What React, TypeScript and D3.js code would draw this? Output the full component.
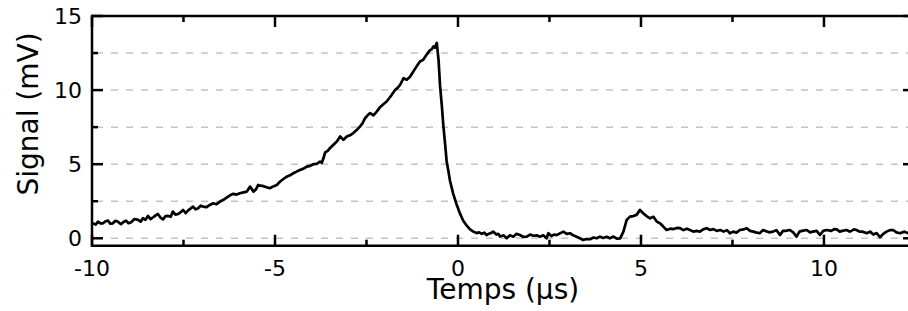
import React from "react";
import * as d3 from "d3";

const timeUs: number[] = [
  -10.0, -9.97, -9.9, -9.84, -9.77, -9.7, -9.63, -9.56, -9.5, -9.43, -9.36, -9.29, -9.21, -9.14, -9.07, -9.0,
  -8.93, -8.84, -8.74, -8.67, -8.61, -8.54, -8.47, -8.4, -8.33, -8.26, -8.2, -8.13, -8.06, -7.99, -7.92, -7.85,
  -7.79, -7.72, -7.65, -7.58, -7.51, -7.44, -7.38, -7.31, -7.24, -7.17, -7.1, -7.03, -6.97, -6.87, -6.78, -6.69,
  -6.6, -6.5, -6.41, -6.32, -6.23, -6.14, -6.05, -5.96, -5.86, -5.77, -5.68, -5.59, -5.52, -5.46, -5.39, -5.32,
  -5.23, -5.14, -5.05, -4.95, -4.86, -4.77, -4.68, -4.59, -4.5, -4.41, -4.32, -4.22, -4.13, -4.04, -3.95, -3.86,
  -3.77, -3.72, -3.67, -3.63, -3.56, -3.5, -3.41, -3.31, -3.22, -3.13, -3.04, -2.95, -2.86, -2.77, -2.68, -2.61,
  -2.54, -2.47, -2.4, -2.31, -2.22, -2.13, -2.04, -1.95, -1.88, -1.81, -1.72, -1.65, -1.58, -1.49, -1.4, -1.31,
  -1.22, -1.13, -1.04, -0.95, -0.86, -0.77, -0.72, -0.67, -0.63, -0.58, -0.53, -0.49, -0.44, -0.4, -0.35, -0.31,
  -0.26, -0.22, -0.13, -0.04, 0.05, 0.14, 0.24, 0.33, 0.42, 0.51, 0.58, 0.65, 0.72, 0.78, 0.84, 0.9,
  0.96, 1.05, 1.1, 1.15, 1.25, 1.33, 1.42, 1.51, 1.6, 1.69, 1.78, 1.88, 1.97, 2.06, 2.15, 2.24,
  2.33, 2.42, 2.47, 2.55, 2.62, 2.7, 2.8, 2.88, 2.97, 3.06, 3.15, 3.24, 3.33, 3.42, 3.52, 3.61,
  3.7, 3.79, 3.88, 3.97, 4.06, 4.15, 4.25, 4.34, 4.43, 4.52, 4.61, 4.7, 4.79, 4.88, 4.97, 5.06,
  5.15, 5.25, 5.34, 5.43, 5.52, 5.61, 5.7, 5.8, 5.89, 5.98, 6.07, 6.16, 6.25, 6.34, 6.43, 6.52,
  6.61, 6.7, 6.8, 6.89, 6.98, 7.07, 7.17, 7.26, 7.35, 7.43, 7.52, 7.61, 7.7, 7.8, 7.89, 7.98,
  8.07, 8.16, 8.25, 8.33, 8.4, 8.5, 8.61, 8.7, 8.8, 8.88, 8.95, 9.07, 9.16, 9.25, 9.33, 9.4,
  9.53, 9.62, 9.7, 9.8, 9.89, 9.98, 10.07, 10.2, 10.28, 10.35, 10.43, 10.5, 10.62, 10.7, 10.75, 10.82,
  10.89, 10.97, 11.05, 11.17, 11.26, 11.35, 11.44, 11.53, 11.62, 11.71, 11.8, 11.89, 11.98, 12.08, 12.2, 12.3,
  12.5,
];

const signalMv: number[] = [
  0.95, 1.01, 0.92, 1.12, 1.0, 1.01, 1.15, 1.19, 0.98, 1.01, 1.18, 1.12, 0.95, 1.1, 1.19, 1.02,
  1.08, 1.3, 1.24, 1.12, 1.35, 1.25, 1.51, 1.3, 1.42, 1.55, 1.64, 1.4, 1.28, 1.5, 1.51, 1.45,
  1.8, 1.6, 1.64, 1.75, 1.91, 1.7, 1.87, 2.0, 2.14, 1.95, 2.03, 2.2, 2.14, 2.1, 2.25, 2.36,
  2.3, 2.48, 2.6, 2.75, 2.9, 3.0, 2.95, 3.04, 3.1, 3.15, 3.49, 3.15, 3.3, 3.6, 3.55, 3.52,
  3.45, 3.38, 3.5, 3.6, 3.83, 4.0, 4.16, 4.25, 4.39, 4.5, 4.61, 4.7, 4.84, 4.89, 5.0, 5.02,
  5.17, 5.1, 5.45, 5.8, 5.9, 6.08, 6.3, 6.53, 6.87, 6.64, 6.87, 6.95, 7.1, 7.3, 7.54, 7.75,
  8.1, 8.3, 8.45, 8.3, 8.55, 8.85, 9.05, 9.23, 9.45, 9.68, 10.0, 10.15, 10.36, 10.8, 10.7, 10.9,
  11.26, 11.6, 11.93, 12.05, 12.38, 12.68, 12.75, 12.95, 12.85, 13.18, 12.0, 10.3, 8.9, 7.6, 6.3, 5.2,
  4.5, 3.9, 3.0, 2.3, 1.7, 1.2, 0.85, 0.6, 0.45, 0.35, 0.4, 0.3, 0.38, 0.22, 0.3, 0.35,
  0.45, 0.25, 0.3, 0.12, 0.2, 0.0, 0.2, 0.11, 0.3, 0.22, 0.1, 0.11, 0.25, 0.17, 0.2, 0.11,
  0.2, 0.0, 0.34, 0.15, 0.25, 0.22, 0.35, 0.45, 0.3, 0.34, 0.2, 0.11, 0.0, -0.11, -0.05, -0.06,
  0.05, 0.0, 0.11, 0.02, 0.1, 0.0, 0.12, -0.03, 0.0, 0.45, 1.24, 1.46, 1.5, 1.58, 1.91, 1.69,
  1.5, 1.35, 1.45, 1.13, 1.01, 0.79, 0.56, 0.65, 0.62, 0.7, 0.68, 0.55, 0.65, 0.56, 0.45, 0.5,
  0.45, 0.6, 0.68, 0.56, 0.62, 0.5, 0.56, 0.45, 0.55, 0.34, 0.45, 0.38, 0.56, 0.6, 0.68, 0.5,
  0.45, 0.38, 0.35, 0.55, 0.5, 0.4, 0.45, 0.55, 0.22, 0.5, 0.5, 0.56, 0.4, 0.11, 0.45, 0.5,
  0.56, 0.4, 0.45, 0.5, 0.22, 0.5, 0.56, 0.5, 0.62, 0.6, 0.45, 0.5, 0.56, 0.45, 0.5, 0.6,
  0.56, 0.45, 0.45, 0.34, 0.45, 0.25, 0.35, 0.07, 0.3, 0.45, 0.55, 0.56, 0.4, 0.34, 0.45, 0.34,
  0.4,
];

const xMajorTicks: number[] = [-10, -5, 0, 5, 10];
const xMinorTicks: number[] = [-7.5, -2.5, 2.5, 7.5];
const yMajorTicks: number[] = [0, 5, 10, 15];
const yMinorTicks: number[] = [2.5, 7.5, 12.5];
const yGridValues: number[] = [0, 2.5, 5, 7.5, 10, 12.5];

const xTitle = "Temps (µs)";
const yTitle = "Signal (mV)";

export default function App() {
  const W = 908;
  const H = 311;
  const left = 92;
  const right = 914;
  const top = 16;
  const bottom = 245.7;

  const x = d3.scaleLinear().domain([-10, 12.46]).range([left, right]);
  const y = d3.scaleLinear().domain([-0.5, 15]).range([bottom, top]);

  const pts: [number, number][] = timeUs.map((t, i) => [t, signalMv[i]]);
  const line = d3
    .line<[number, number]>()
    .x((d) => x(d[0]))
    .y((d) => y(d[1]));

  const font = "'DejaVu Sans', sans-serif";
  const major = 11;
  const minor = 6;
  const axisW = 2.5;

  return (
    <svg
      width={W}
      height={H}
      style={{ position: "absolute", left: 0, top: 0, background: "#fff" }}
      fontFamily={font}
    >
      <defs>
        <clipPath id="plotClip">
          <rect x={left} y={top} width={right - left} height={bottom - top} />
        </clipPath>
      </defs>
      <rect x={0} y={0} width={W} height={H} fill="#fff" />
      {yGridValues.map((v) => (
        <line
          key={"g" + v}
          x1={left}
          x2={right}
          y1={y(v)}
          y2={y(v)}
          stroke="#c4c4c4"
          strokeWidth={1.5}
          strokeDasharray="7,8"
          strokeDashoffset={-4}
        />
      ))}
      <path
        d={line(pts) || ""}
        fill="none"
        stroke="#000"
        strokeWidth={2.7}
        strokeLinejoin="round"
        clipPath="url(#plotClip)"
      />
      <line x1={left} x2={left} y1={top - axisW / 2} y2={bottom + axisW / 2} stroke="#000" strokeWidth={axisW} />
      <line x1={left} x2={right} y1={bottom} y2={bottom} stroke="#000" strokeWidth={axisW} />
      <line x1={left} x2={right} y1={top} y2={top} stroke="#000" strokeWidth={axisW} />
      <line x1={right} x2={right} y1={top} y2={bottom} stroke="#000" strokeWidth={axisW} />
      {xMajorTicks.map((t) => (
        <g key={"xM" + t}>
          <line x1={x(t)} x2={x(t)} y1={bottom} y2={bottom - major} stroke="#000" strokeWidth={axisW} />
          <line x1={x(t)} x2={x(t)} y1={top} y2={top + major} stroke="#000" strokeWidth={axisW} />
          <text x={x(t)} y={276} textAnchor="middle" fontSize={22} fill="#000">
            {t}
          </text>
        </g>
      ))}
      {xMinorTicks.map((t) => (
        <g key={"xm" + t}>
          <line x1={x(t)} x2={x(t)} y1={bottom} y2={bottom - minor} stroke="#000" strokeWidth={axisW} />
          <line x1={x(t)} x2={x(t)} y1={top} y2={top + minor} stroke="#000" strokeWidth={axisW} />
        </g>
      ))}
      {yMajorTicks.map((v) => (
        <g key={"yM" + v}>
          <line x1={left} x2={left + major} y1={y(v)} y2={y(v)} stroke="#000" strokeWidth={axisW} />
          <line x1={right} x2={right - major} y1={y(v)} y2={y(v)} stroke="#000" strokeWidth={axisW} />
          <text x={82} y={y(v)} dy="0.36em" textAnchor="end" fontSize={22} fill="#000">
            {v}
          </text>
        </g>
      ))}
      {yMinorTicks.map((v) => (
        <g key={"ym" + v}>
          <line x1={left} x2={left + minor} y1={y(v)} y2={y(v)} stroke="#000" strokeWidth={axisW} />
          <line x1={right} x2={right - minor} y1={y(v)} y2={y(v)} stroke="#000" strokeWidth={axisW} />
        </g>
      ))}
      <text x={503} y={299} textAnchor="middle" fontSize={28} fill="#000">
        {xTitle}
      </text>
      <text transform={`translate(38,114) rotate(-90)`} textAnchor="middle" fontSize={28} fill="#000">
        {yTitle}
      </text>
    </svg>
  );
}
